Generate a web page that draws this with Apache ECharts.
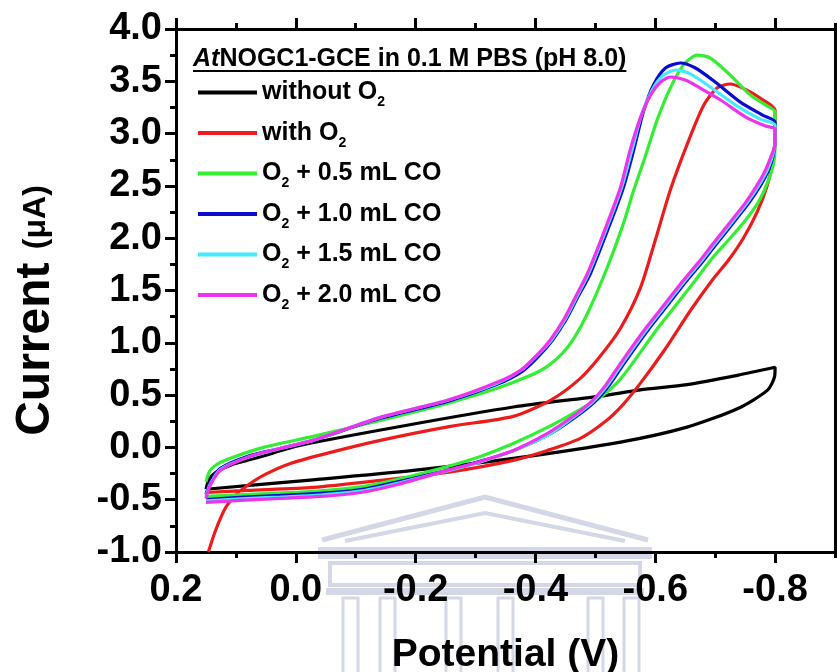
<!DOCTYPE html>
<html>
<head>
<meta charset="utf-8">
<script src="https://cdn.jsdelivr.net/npm/echarts@6/dist/echarts.min.js"></script>
<style>
  html, body { margin: 0; padding: 0; background: #ffffff; }
  #chart { width: 837px; height: 672px; }
</style>
</head>
<body>
<div id="chart"></div>
<script>
// Cyclic voltammograms of AtNOGC1-GCE, potential (V) vs current (µA), each loop in scan order.
const seriesNames = ['without O2', 'with O2', 'O2 + 0.5 mL CO', 'O2 + 1.0 mL CO', 'O2 + 1.5 mL CO', 'O2 + 2.0 mL CO'];
const seriesColors = ['#000000', '#ec1c1c', '#33ee33', '#0a0ad0', '#44eaff', '#ee33ee'];

const withoutO2 = [
  [0.15, -0.40], [0.145, -0.31], [0.134, -0.24], [0.109, -0.17], [0.059, -0.09], [-0.008, 0.02],
  [-0.174, 0.20], [-0.363, 0.386], [-0.508, 0.49], [-0.575, 0.55], [-0.653, 0.60], [-0.737, 0.689],
  [-0.80, 0.766],
  [-0.799, 0.673], [-0.787, 0.545], [-0.737, 0.370], [-0.653, 0.194], [-0.542, 0.051],
  [-0.363, -0.105], [-0.196, -0.22], [-0.029, -0.31], [0.15, -0.40]
];

const withO2 = [
  [0.146, -1.0], [0.134, -0.794], [0.118, -0.584], [0.101, -0.459], [0.081, -0.364], [0.051, -0.258],
  [0.009, -0.153], [-0.058, -0.048], [-0.141, 0.067], [-0.258, 0.201], [-0.363, 0.297], [-0.425, 0.450],
  [-0.475, 0.660], [-0.508, 0.871], [-0.542, 1.139], [-0.575, 1.522], [-0.600, 1.981], [-0.625, 2.459],
  [-0.654, 2.909], [-0.681, 3.273], [-0.703, 3.435], [-0.725, 3.474], [-0.753, 3.416], [-0.775, 3.340],
  [-0.80, 3.225],
  [-0.80, 2.986], [-0.796, 2.746], [-0.787, 2.507], [-0.770, 2.249], [-0.747, 2.000], [-0.722, 1.789],
  [-0.695, 1.598], [-0.659, 1.311], [-0.614, 0.919], [-0.575, 0.612], [-0.545, 0.402], [-0.517, 0.249],
  [-0.475, 0.086], [-0.420, -0.029], [-0.363, -0.124], [-0.253, -0.239], [-0.141, -0.316],
  [-0.029, -0.383], [0.081, -0.411], [0.15, -0.431]
];

const co05 = [
  [0.15, -0.33], [0.143, -0.22], [0.126, -0.144], [0.101, -0.086], [0.054, 0.0], [-0.029, 0.105],
  [-0.141, 0.258], [-0.253, 0.421], [-0.336, 0.565], [-0.392, 0.689], [-0.420, 0.775], [-0.445, 0.90],
  [-0.465, 1.05], [-0.487, 1.282], [-0.520, 1.722], [-0.547, 2.144], [-0.564, 2.459], [-0.584, 2.794],
  [-0.603, 3.129], [-0.625, 3.435], [-0.647, 3.656], [-0.670, 3.751], [-0.692, 3.722], [-0.725, 3.560],
  [-0.759, 3.368], [-0.784, 3.273], [-0.80, 3.206],
  [-0.80, 2.986], [-0.799, 2.766], [-0.789, 2.555], [-0.772, 2.344], [-0.748, 2.153], [-0.722, 1.981],
  [-0.695, 1.809], [-0.667, 1.598], [-0.637, 1.378], [-0.604, 1.139], [-0.562, 0.804], [-0.537, 0.622],
  [-0.508, 0.478], [-0.475, 0.364], [-0.420, 0.191], [-0.363, 0.038], [-0.308, -0.086], [-0.253, -0.182],
  [-0.170, -0.306], [-0.113, -0.373], [-0.029, -0.421], [0.081, -0.450], [0.15, -0.469]
];

const co10 = [
  [0.15, -0.45], [0.143, -0.335], [0.126, -0.201], [0.081, -0.086], [0.026, -0.010], [-0.029, 0.067],
  [-0.141, 0.278], [-0.253, 0.440], [-0.336, 0.603], [-0.378, 0.727], [-0.405, 0.871], [-0.429, 1.03],
  [-0.451, 1.22], [-0.471, 1.44], [-0.492, 1.665], [-0.525, 2.144], [-0.547, 2.488], [-0.564, 2.842],
  [-0.580, 3.206], [-0.597, 3.464], [-0.617, 3.627], [-0.642, 3.675], [-0.667, 3.627], [-0.700, 3.493],
  [-0.742, 3.301], [-0.779, 3.177], [-0.80, 3.110],
  [-0.80, 2.940], [-0.797, 2.794], [-0.789, 2.651], [-0.776, 2.507], [-0.756, 2.335], [-0.731, 2.153],
  [-0.703, 1.952], [-0.681, 1.789], [-0.653, 1.598], [-0.623, 1.378], [-0.590, 1.139], [-0.548, 0.804],
  [-0.523, 0.593], [-0.498, 0.431], [-0.464, 0.278], [-0.426, 0.134], [-0.369, -0.019], [-0.313, -0.124],
  [-0.258, -0.211], [-0.174, -0.325], [-0.111, -0.402], [-0.041, -0.440], [0.026, -0.459],
  [0.093, -0.478], [0.15, -0.498]
];

const co15 = [
  [0.15, -0.469], [0.143, -0.354], [0.126, -0.211], [0.081, -0.096], [0.026, -0.010], [-0.029, 0.067],
  [-0.141, 0.287], [-0.253, 0.450], [-0.336, 0.612], [-0.376, 0.737], [-0.403, 0.880], [-0.427, 1.03],
  [-0.449, 1.22], [-0.469, 1.44], [-0.489, 1.665], [-0.522, 2.144], [-0.544, 2.488], [-0.561, 2.842],
  [-0.577, 3.177], [-0.594, 3.407], [-0.612, 3.550], [-0.634, 3.608], [-0.659, 3.569], [-0.692, 3.445],
  [-0.734, 3.273], [-0.775, 3.139], [-0.80, 3.081],
  [-0.80, 2.920], [-0.796, 2.794], [-0.787, 2.651], [-0.773, 2.507], [-0.753, 2.335], [-0.728, 2.153],
  [-0.700, 1.952], [-0.678, 1.789], [-0.650, 1.598], [-0.620, 1.378], [-0.587, 1.139], [-0.545, 0.804],
  [-0.520, 0.593], [-0.495, 0.431], [-0.461, 0.278], [-0.423, 0.124], [-0.366, -0.026], [-0.311, -0.134],
  [-0.256, -0.220], [-0.172, -0.340], [-0.110, -0.416], [-0.041, -0.455], [0.026, -0.474],
  [0.093, -0.492], [0.15, -0.512]
];

const co20 = [
  [0.15, -0.488], [0.143, -0.364], [0.126, -0.220], [0.081, -0.096], [0.026, -0.010], [-0.029, 0.067],
  [-0.141, 0.287], [-0.253, 0.450], [-0.336, 0.622], [-0.375, 0.737], [-0.402, 0.880], [-0.425, 1.03],
  [-0.447, 1.22], [-0.467, 1.44], [-0.487, 1.665], [-0.520, 2.144], [-0.542, 2.488], [-0.558, 2.842],
  [-0.575, 3.148], [-0.592, 3.368], [-0.609, 3.493], [-0.625, 3.541], [-0.650, 3.512], [-0.675, 3.435],
  [-0.709, 3.321], [-0.751, 3.158], [-0.784, 3.072], [-0.80, 3.043],
  [-0.80, 2.900], [-0.794, 2.794], [-0.784, 2.651], [-0.770, 2.507], [-0.750, 2.335], [-0.725, 2.153],
  [-0.697, 1.952], [-0.675, 1.789], [-0.647, 1.598], [-0.617, 1.378], [-0.584, 1.139], [-0.542, 0.804],
  [-0.517, 0.593], [-0.492, 0.431], [-0.458, 0.278], [-0.420, 0.134], [-0.363, -0.029], [-0.308, -0.134],
  [-0.253, -0.220], [-0.170, -0.354], [-0.108, -0.431], [-0.041, -0.469], [0.026, -0.488],
  [0.093, -0.507], [0.15, -0.526]
];

const curves = [withoutO2, withO2, co05, co10, co15, co20];

// Tick positions of the potential axis (drawn reversed, 0.2 V on the left).
const xMajorTicks = [0.2, 0.0, -0.2, -0.4, -0.6, -0.8];
const xRange = [-0.9, 0.2];
const yRange = [-1.0, 4.0];
const yStep = 0.5;

const legendTitle = ['At', 'NOGC1-GCE in 0.1 M PBS (pH 8.0)'];
const xTitle = 'Potential (V)';
const yTitleMain = 'Current ';
const yTitleUnit = '(\u03bcA)';

const FONT = '"Liberation Sans", Arial, Helvetica, sans-serif';
const INK = '#000000';
const EMBLEM = '#d3d7e6';

function subscriptName(name) {
  // "O2" -> O with a subscript 2
  return name.split('O2').map(function (part) { return part ? '{n|' + part + '}' : ''; })
    .join('{n|O}{s|2}');
}

function fmt1(v) {
  const r = Math.round(v * 10) / 10;
  return (r === 0 ? 0 : r).toFixed(1);
}

const chart = echarts.init(document.getElementById('chart'), null, { renderer: 'canvas' });

const axisLine = { show: true, onZero: false, lineStyle: { color: INK, width: 3 } };
const hiddenLine = { show: false, onZero: false };
const majorTick = { show: true, inside: false, length: 11, lineStyle: { color: INK, width: 3 } };
const minorTickStyle = { show: true, inside: false, length: 6, lineStyle: { color: INK, width: 3 } };
const tickLabel = { color: INK, fontFamily: FONT, fontWeight: 'bold', fontSize: 38 };

function xAxisDef(position, withLabels, minor) {
  const base = {
    type: 'value', position: position, inverse: true,
    min: xRange[0], max: xRange[1], interval: 0.1,
    splitLine: { show: false },
    axisLine: minor ? hiddenLine : axisLine
  };
  if (minor) {
    base.axisTick = minorTickStyle;
    base.axisLabel = { show: false };
  } else {
    base.axisTick = Object.assign({ customValues: xMajorTicks }, majorTick);
    base.axisLabel = withLabels
      ? Object.assign({ customValues: xMajorTicks, margin: 20, formatter: fmt1 }, tickLabel)
      : { show: false };
  }
  return base;
}

function yAxisDef(position, withLabels) {
  return {
    type: 'value', position: position,
    min: yRange[0], max: yRange[1], interval: yStep,
    splitLine: { show: false },
    axisLine: axisLine,
    axisTick: withLabels ? majorTick : { show: false },
    minorTick: withLabels ? Object.assign({ splitNumber: 2 }, minorTickStyle) : { show: false },
    minorSplitLine: { show: false },
    axisLabel: withLabels ? Object.assign({ margin: 14, formatter: fmt1 }, tickLabel) : { show: false }
  };
}

const xAxes = [xAxisDef('bottom', true, false), xAxisDef('bottom', false, true),
               xAxisDef('top', false, false), xAxisDef('top', false, true)];
xAxes[0].name = xTitle;
xAxes[0].nameLocation = 'middle';
xAxes[0].nameGap = 84;
xAxes[0].nameTextStyle = { color: INK, fontFamily: FONT, fontWeight: 'bold', fontSize: 39 };

const yAxes = [yAxisDef('left', true), yAxisDef('right', false)];
yAxes[0].name = '{a|' + yTitleMain + '}{b|' + yTitleUnit + '}';
yAxes[0].nameLocation = 'middle';
yAxes[0].nameRotate = 90;
yAxes[0].nameGap = 116;
yAxes[0].nameTextStyle = {
  color: INK, fontFamily: FONT, fontWeight: 'bold',
  padding: [0, 40, 0, 0],
  rich: {
    a: { fontFamily: FONT, fontWeight: 'bold', fontSize: 48, color: INK },
    b: { fontFamily: FONT, fontWeight: 'bold', fontSize: 32, color: INK }
  }
};

// measure the legend heading so it can be underlined
const headingSize = 25;
const measureCtx = document.createElement('canvas').getContext('2d');
measureCtx.font = 'italic bold ' + headingSize + 'px ' + FONT;
let headingWidth = measureCtx.measureText(legendTitle[0]).width;
measureCtx.font = 'bold ' + headingSize + 'px ' + FONT;
headingWidth += measureCtx.measureText(legendTitle[1]).width;
const headingLeft = 193;
const headingTop = 47;

// faint building emblem sitting behind the lower axis
function emblem() {
  const parts = [];
  const line = { stroke: EMBLEM, lineWidth: 5, fill: null };
  parts.push({ type: 'polyline', z: -5, silent: true, shape: { points: [[322, 540], [485, 497], [648, 540]] }, style: line });
  parts.push({ type: 'polyline', z: -5, silent: true, shape: { points: [[345, 541], [485, 513], [625, 541]] }, style: { stroke: EMBLEM, lineWidth: 4, fill: null } });
  parts.push({ type: 'rect', z: -5, silent: true, shape: { x: 318, y: 547, width: 334, height: 12 }, style: { fill: EMBLEM } });
  parts.push({ type: 'rect', z: -5, silent: true, shape: { x: 330, y: 563, width: 310, height: 22 }, style: { stroke: EMBLEM, lineWidth: 4, fill: null } });
  parts.push({ type: 'rect', z: -5, silent: true, shape: { x: 326, y: 588, width: 318, height: 7 }, style: { fill: EMBLEM } });
  [343, 380, 446, 498, 588, 624].forEach(function (cx) {
    parts.push({ type: 'rect', z: -5, silent: true, shape: { x: cx, y: 598, width: 15, height: 80 }, style: { stroke: EMBLEM, lineWidth: 3, fill: null } });
  });
  return parts;
}

const option = {
  animation: false,
  backgroundColor: '#ffffff',
  grid: { left: 176, right: 2, top: 29, bottom: 120, containLabel: false, outerBoundsMode: 'none' },
  xAxis: xAxes,
  yAxis: yAxes,
  legend: {
    orient: 'vertical',
    left: 193, top: 75,
    itemGap: 11,
    itemWidth: 59, itemHeight: 4,
    icon: 'rect',
    selectedMode: false,
    data: seriesNames.map(function (n, i) { return { name: n, itemStyle: { color: seriesColors[i] } }; }),
    formatter: subscriptName,
    textStyle: {
      color: INK, fontFamily: FONT, fontWeight: 'bold', fontSize: 25,
      rich: {
        n: { fontFamily: FONT, fontWeight: 'bold', fontSize: 25, color: INK, lineHeight: 34, verticalAlign: 'middle' },
        s: { fontFamily: FONT, fontWeight: 'bold', fontSize: 14, color: INK, lineHeight: 10, verticalAlign: 'bottom' }
      }
    }
  },
  graphic: emblem().concat([
    {
      type: 'text', left: headingLeft, top: headingTop, z: 10,
      style: {
        text: '{i|' + legendTitle[0] + '}{b|' + legendTitle[1] + '}',
        rich: {
          i: { fontFamily: FONT, fontWeight: 'bold', fontStyle: 'italic', fontSize: headingSize, fill: INK },
          b: { fontFamily: FONT, fontWeight: 'bold', fontSize: headingSize, fill: INK }
        }
      }
    },
    {
      type: 'line', z: 10,
      shape: { x1: headingLeft, y1: headingTop + 24, x2: headingLeft + headingWidth, y2: headingTop + 24 },
      style: { stroke: INK, lineWidth: 2 }
    }
  ]),
  series: curves.map(function (data, i) {
    return {
      name: seriesNames[i],
      type: 'line',
      xAxisIndex: 0, yAxisIndex: 0,
      data: data,
      showSymbol: false,
      symbol: 'none',
      smooth: 0.25,
      color: seriesColors[i],
      lineStyle: { color: seriesColors[i], width: 3.2 },
      z: 2 + i
    };
  })
};

chart.setOption(option);
</script>
</body>
</html>
